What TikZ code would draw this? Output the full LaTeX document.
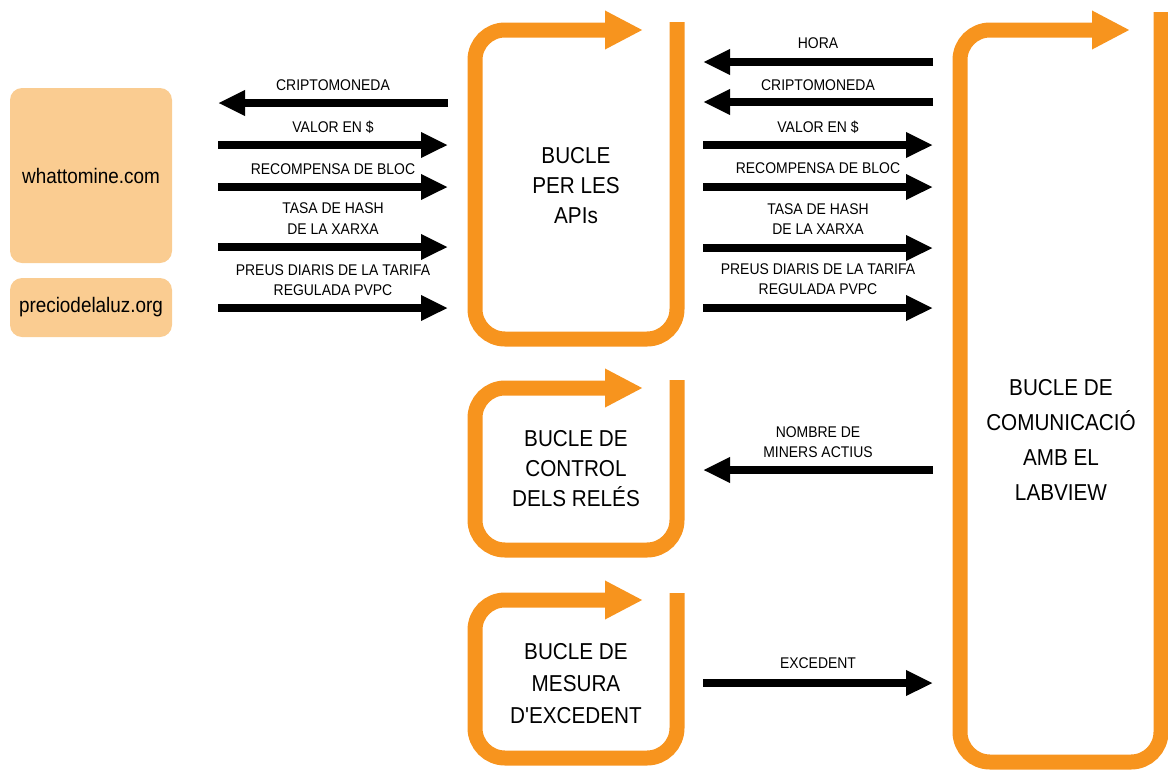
\documentclass[tikz,border=0pt]{standalone}
\usepackage{fontspec}
\setmainfont{Liberation Sans}[FakeStretch=0.9, Ligatures=TeXOff]
\usetikzlibrary{arrows.meta}
\definecolor{loopor}{RGB}{247,148,30}
\definecolor{srcfill}{RGB}{250,204,145}
\tikzset{
  loopline/.style={draw=loopor, line width=15pt, rounded corners=30pt,
    -{Triangle[length=38pt,width=36pt]}},
  flow/.style={draw=black, line width=8pt, -{Triangle[length=27pt,width=24pt]}},
  flowlabel/.style={font=\fontsize{15.5}{20.5}\selectfont, align=center, inner sep=0pt},
  looplabel/.style={font=\fontsize{23}{30}\selectfont, align=center, inner sep=0pt},
  source/.style={fill=srcfill, rounded corners=12pt, font=\fontsize{21}{25}\selectfont,
    minimum width=162pt, inner sep=0pt},
}
\begin{document}
\begin{tikzpicture}[x=1pt,y=-1pt]
\useasboundingbox (0,0) rectangle (1168,769);

% data sources
\node[source, minimum height=175pt] (wtm) at (91,175.5) {whattomine.com};
\node[source, minimum height=59pt] (pdl) at (91,307.5) {preciodelaluz.org};

% loops
\draw[loopline] (677,22) -- (677,339) -- (475,339) -- (475,30) -- (643,30);
\node[looplabel] (api) at (576,186) {BUCLE\\PER LES\\APIs};

\draw[loopline] (677,380) -- (677,550) -- (475,550) -- (475,388) -- (643,388);
\node[looplabel] (rel) at (576,469) {BUCLE DE\\CONTROL\\DELS RELÉS};

\draw[loopline] (677,593) -- (677,758) -- (475,758) -- (475,600) -- (643,600);
\node[looplabel, font=\fontsize{23}{32}\selectfont] (exc) at (576,684) {BUCLE DE\\MESURA\\D'EXCEDENT};

\draw[loopline] (1161,12) -- (1161,762) -- (960,762) -- (960,30) -- (1130,30);
\node[looplabel, font=\fontsize{23}{35}\selectfont] (lab) at (1061,440) {BUCLE DE\\COMUNICACIÓ\\AMB EL\\LABVIEW};

% arrow end points, sources side
\foreach \n/\y in {a/103,b/145,c/187,d/247,e/308}{
  \coordinate (s\n) at (218,\y);
  \coordinate (p\n) at (448,\y);
}
% arrow end points, LabVIEW side
\foreach \n/\y in {a/62,b/102,c/145,d/187,e/248,f/308,g/470,h/683}{
  \coordinate (q\n) at (703,\y);
  \coordinate (r\n) at (933,\y);
}

% sources <-> API loop
\draw[flow] (pa) -- (sa);
\draw[flow] (sb) -- (pb);
\draw[flow] (sc) -- (pc);
\draw[flow] (sd) -- (pd);
\draw[flow] (se) -- (pe);
\node[flowlabel] (la) at (333,85) {CRIPTOMONEDA};
\node[flowlabel] (lb) at (333,127) {VALOR EN \$};
\node[flowlabel] (lc) at (333,169) {RECOMPENSA DE BLOC};
\node[flowlabel] (ld) at (333,218.5) {TASA DE HASH\\DE LA XARXA};
\node[flowlabel] (le) at (333,280) {PREUS DIARIS DE LA TARIFA\\REGULADA PVPC};

% loops <-> LabVIEW loop
\draw[flow] (ra) -- (qa);
\draw[flow] (rb) -- (qb);
\draw[flow] (qc) -- (rc);
\draw[flow] (qd) -- (rd);
\draw[flow] (qe) -- (re);
\draw[flow] (qf) -- (rf);
\draw[flow] (rg) -- (qg);
\draw[flow] (qh) -- (rh);
\node[flowlabel] (ma) at (818,43) {HORA};
\node[flowlabel] (mb) at (818,85) {CRIPTOMONEDA};
\node[flowlabel] (mc) at (818,127) {VALOR EN \$};
\node[flowlabel] (md) at (818,168) {RECOMPENSA DE BLOC};
\node[flowlabel] (me) at (818,219) {TASA DE HASH\\DE LA XARXA};
\node[flowlabel] (mf) at (818,279) {PREUS DIARIS DE LA TARIFA\\REGULADA PVPC};
\node[flowlabel] (mg) at (818,442) {NOMBRE DE\\MINERS ACTIUS};
\node[flowlabel] (mh) at (818,663) {EXCEDENT};
\end{tikzpicture}
\end{document}
